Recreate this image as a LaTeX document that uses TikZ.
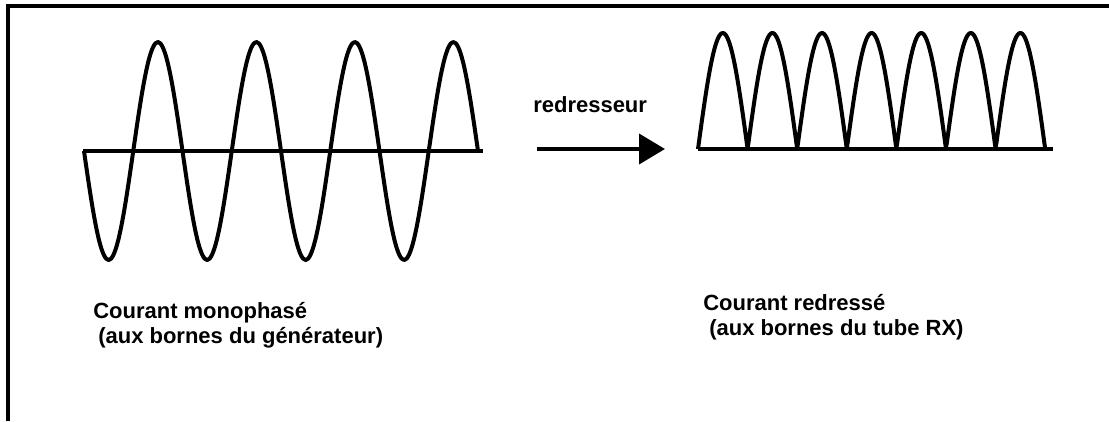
\documentclass[tikz,border=0pt]{standalone}
\usepackage{fontspec}
\setmainfont{Liberation Sans}
\usetikzlibrary{arrows.meta}
\begin{document}
\begin{tikzpicture}[x=0.75pt, y=-0.75pt,
    onde/.style={line width=3pt, line join=round},
    axe/.style={line width=2.6pt},
    legende/.style={anchor=base west, inner sep=0pt,
                    font=\fontsize{16.5pt}{18.75pt}\selectfont\bfseries},
    fleche/.style={-{Triangle[length=19.5pt, width=22.5pt]}, line width=3pt}
  ]
  \useasboundingbox (0,0) rectangle (1109,421);
  \draw[line width=2.4pt] (8,421) -- (8,6) -- (1109,6);

  \draw[axe] (83,151) -- (483,151);
  \draw[onde] plot[domain=0:4, samples=161, smooth] ({84+98.5*\x},{151+109*sin(360*\x)});

  \draw[axe] (698,149) -- (1053,149);
  \draw[onde] plot[domain=0:7, samples=351] ({698+49.6*\x},{149-116*abs(sin(180*\x))});

  \node[legende] (redr) at (533,112) {redresseur};
  \coordinate (flD) at (537,149);
  \coordinate (flF) at (665,149);
  \draw[fleche] (flD) -- (flF);

  \node[legende] (monoA) at (93,318) {Courant monophasé};
  \node[legende] (monoB) at (98,343) {(aux bornes du générateur)};
  \node[legende] (redrA) at (703,310) {Courant redressé};
  \node[legende] (redrB) at (709,335) {(aux bornes du tube RX)};
\end{tikzpicture}
\end{document}
